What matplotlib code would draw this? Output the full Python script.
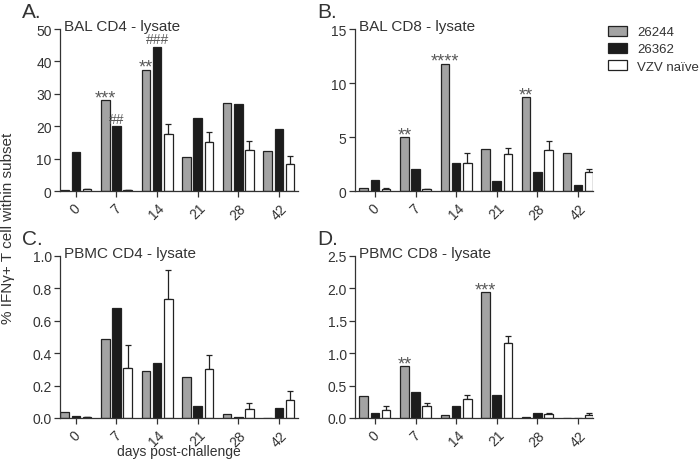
import numpy as np
import matplotlib
matplotlib.use("Agg")
import matplotlib.pyplot as plt
from matplotlib.patches import Patch

plt.rcParams['font.family'] = ['Liberation Sans', 'DejaVu Sans']
plt.rcParams['text.color'] = '#333333'
plt.rcParams['axes.edgecolor'] = '#333333'
plt.rcParams['xtick.color'] = '#333333'
plt.rcParams['ytick.color'] = '#333333'

days = ['0', '7', '14', '21', '28', '42']
groups = ['26244', '26362', 'VZV naïve']

# BAL CD4
bal_cd4_26244 = [0.3, 28.0, 37.5, 10.5, 27.2, 12.3]
bal_cd4_26362 = [12.0, 20.0, 44.5, 22.5, 26.7, 19.0]
bal_cd4_naive = [0.5, 0.3, 17.7, 15.0, 12.7, 8.4]
bal_cd4_naive_err = [0.1, 0.1, 3.0, 3.3, 2.8, 2.3]

# BAL CD8
bal_cd8_26244 = [0.3, 5.0, 11.8, 3.9, 8.7, 3.5]
bal_cd8_26362 = [1.0, 2.0, 2.6, 0.95, 1.8, 0.6]
bal_cd8_naive = [0.2, 0.15, 2.6, 3.4, 3.8, 1.8]
bal_cd8_naive_err = [0.1, 0.05, 0.95, 0.55, 0.85, 0.2]

# PBMC CD4
pbmc_cd4_26244 = [0.04, 0.49, 0.29, 0.255, 0.022, 0.0]
pbmc_cd4_26362 = [0.01, 0.68, 0.34, 0.075, 0.006, 0.06]
pbmc_cd4_naive = [0.005, 0.31, 0.735, 0.30, 0.055, 0.11]
pbmc_cd4_naive_err = [0.0, 0.14, 0.18, 0.09, 0.035, 0.057]

# PBMC CD8
pbmc_cd8_26244 = [0.34, 0.80, 0.04, 1.94, 0.02, 0.0]
pbmc_cd8_26362 = [0.077, 0.40, 0.18, 0.35, 0.08, 0.0]
pbmc_cd8_naive = [0.12, 0.185, 0.30, 1.15, 0.06, 0.05]
pbmc_cd8_naive_err = [0.065, 0.05, 0.06, 0.12, 0.01, 0.02]

# significance marks: (day index, series index, text)
sig_a = [(1, 0, '***'), (1, 1, '##'), (2, 0, '**'), (2, 1, '###')]
sig_b = [(1, 0, '**'), (2, 0, '****'), (4, 0, '**')]
sig_c = []
sig_d = [(1, 0, '**'), (3, 0, '***')]

colors = ['#a3a3a3', '#1c1c1c', '#ffffff']

panels = [
    ('A.', 'BAL CD4 - lysate', [bal_cd4_26244, bal_cd4_26362, bal_cd4_naive], bal_cd4_naive_err,
     np.arange(0, 51, 10), 50, '%d', sig_a),
    ('B.', 'BAL CD8 - lysate', [bal_cd8_26244, bal_cd8_26362, bal_cd8_naive], bal_cd8_naive_err,
     np.arange(0, 16, 5), 15, '%d', sig_b),
    ('C.', 'PBMC CD4 - lysate', [pbmc_cd4_26244, pbmc_cd4_26362, pbmc_cd4_naive], pbmc_cd4_naive_err,
     np.arange(0, 1.01, 0.2), 1.0, '%.1f', sig_c),
    ('D.', 'PBMC CD8 - lysate', [pbmc_cd8_26244, pbmc_cd8_26362, pbmc_cd8_naive], pbmc_cd8_naive_err,
     np.arange(0, 2.51, 0.5), 2.5, '%.1f', sig_d),
]

W, H = 700, 460
fig = plt.figure(figsize=(7, 4.6), dpi=100)
boxes = [(60, 30), (355, 30), (60, 257), (355, 257)]
xlims = [(-0.39, 5.47), (-0.49, 5.37), (-0.39, 5.47), (-0.49, 5.37)]
aw, ah = 238, 162

x = np.arange(len(days))
off = 0.275
bw = 0.21

for (letter, title, series, err, yt, ymax, fmt, sig), (px, py), xl in zip(panels, boxes, xlims):
    ax = fig.add_axes([px / W, 1 - (py + ah) / H, aw / W, ah / H])
    for i, vals in enumerate(series):
        ax.bar(x + (i - 1) * off, vals, width=bw, color=colors[i],
               edgecolor='#222222', linewidth=0.9, zorder=2)
    ax.errorbar(x + off, series[2], yerr=[np.zeros(len(err)), err], fmt='none',
                ecolor='#222222', elinewidth=0.9, capsize=2.5, capthick=0.9, zorder=1)
    for di, si, s in sig:
        if s.startswith('*'):
            fs, dy = 13, -1.5
        else:
            fs, dy = 10, 2.5
        ax.annotate(s, (x[di] + (si - 1) * off, series[si][di]), xytext=(0, dy),
                    textcoords='offset points', ha='center', va='baseline',
                    fontsize=fs, color='#5a5a5a')
    ax.set_xlim(*xl)
    ax.set_ylim(0, ymax)
    ax.set_yticks(yt)
    ax.set_yticklabels([fmt % v for v in yt])
    ax.set_xticks(x)
    ax.set_xticklabels(days, rotation=45, ha='center')
    ax.tick_params(axis='both', labelsize=10, length=4, width=0.9, pad=2)
    ax.tick_params(axis='x', pad=3)
    for sp in ['top', 'right']:
        ax.spines[sp].set_visible(False)
    for sp in ['left', 'bottom']:
        ax.spines[sp].set_linewidth(0.9)
    ax.text(0.015, 1.02, title, transform=ax.transAxes, ha='left', va='center',
            fontsize=11)
    fig.text((px - 38) / W, 1 - (py - 17) / H, letter, ha='left', va='center',
             fontsize=15)

fig.text(8 / W, 1 - 228 / H, '% IFNγ+ T cell within subset', rotation=90,
         ha='center', va='center', fontsize=11)
fig.text(179 / W, 1 - 452 / H, 'days post-challenge', ha='center', va='center',
         fontsize=10)

handles = [Patch(facecolor=c, edgecolor='#222222', linewidth=0.9) for c in colors]
fig.legend(handles, groups, loc='upper left', bbox_to_anchor=(608 / W, 1 - 27 / H),
           frameon=False, fontsize=9.5, handlelength=1.45, handleheight=0.75,
           labelspacing=0.35, handletextpad=0.75, borderaxespad=0, borderpad=0)

fig.savefig('out.png', dpi=100)
